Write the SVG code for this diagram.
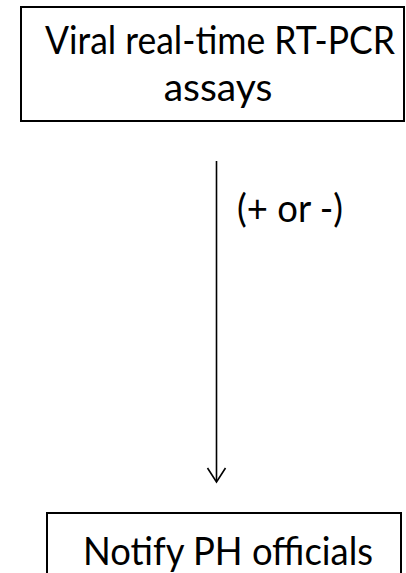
<svg xmlns="http://www.w3.org/2000/svg" width="406" height="573" viewBox="0 0 406 573">
<style>
.box{fill:#fff;stroke:#000;stroke-width:2}
.t{font-family:Lato,"Open Sans","Liberation Sans",sans-serif;font-size:39px;fill:#000}
.edge{stroke:#000;stroke-width:1.6;fill:none}
</style>
<rect width="406" height="573" fill="#fff"/>
<g id="node-assays">
<rect class="box" x="21" y="7" width="383" height="114"/>
<text class="t" x="45" y="54" textLength="350" lengthAdjust="spacingAndGlyphs">Viral real-time RT-PCR</text>
<text class="t" x="218" y="101" text-anchor="middle">assays</text>
</g>
<g id="connectors">
<line class="edge" x1="216.5" y1="161" x2="216.5" y2="481"/>
<polyline class="edge" points="207.5,468 216.5,482 225.5,468"/>
<text class="t" x="237" y="222" textLength="106" lengthAdjust="spacingAndGlyphs">(+ or -)</text>
</g>
<g id="node-notify">
<rect class="box" x="47" y="513" width="354" height="70"/>
<text class="t" x="83" y="565" textLength="290" lengthAdjust="spacingAndGlyphs">Notify PH officials</text>
</g>
</svg>
